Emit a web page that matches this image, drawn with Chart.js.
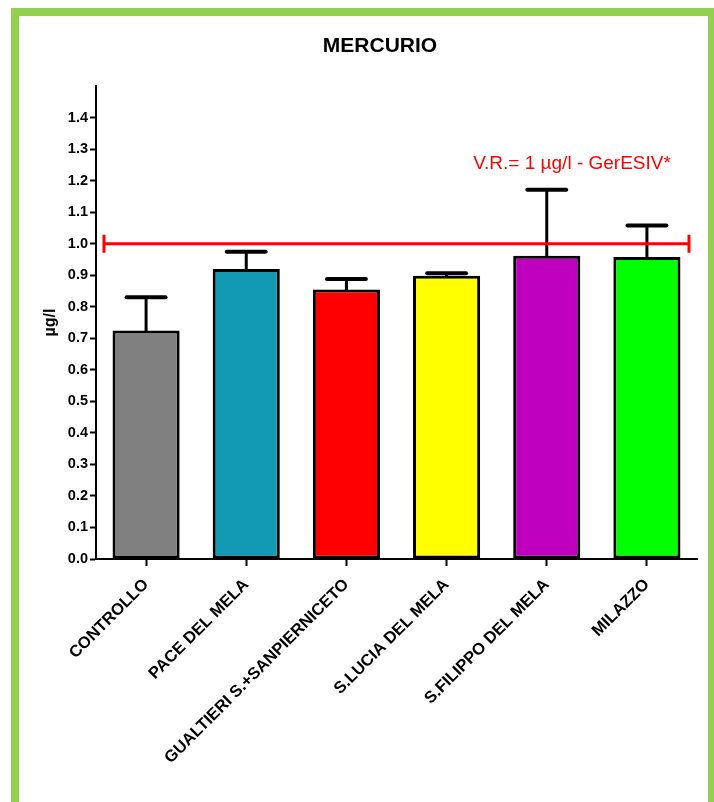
<!DOCTYPE html>
<html>
<head>
<meta charset="utf-8">
<script src="https://cdn.jsdelivr.net/npm/chart.js@4.4.1/dist/chart.umd.min.js"></script>
<style>
  html, body { margin: 0; padding: 0; background: #ffffff; overflow: hidden; }
  #wrap { position: relative; width: 714px; height: 802px; }
  #frame { position: absolute; left: 11px; top: 8px; width: 705px; height: 820px; box-sizing: border-box;
           border: 8px solid #92d050; border-bottom: none; pointer-events: none; }
  canvas { position: absolute; left: 0; top: 0; }
</style>
</head>
<body>
<div id="wrap">
  <canvas id="c" width="714" height="802"></canvas>
  <div id="frame"></div>
</div>
<script>
// ---- data ----
const chartTitle = 'MERCURIO';
const yAxisTitle = 'µg/l';
const categories = ['CONTROLLO', 'PACE DEL MELA', 'GUALTIERI S.+SANPIERNICETO', 'S.LUCIA DEL MELA', 'S.FILIPPO DEL MELA', 'MILAZZO'];
const means = [0.725, 0.92, 0.855, 0.898, 0.962, 0.958];
const upperErrors = [0.105, 0.054, 0.033, 0.008, 0.209, 0.10];
const barColors = ['#808080', '#1299b4', '#ff0000', '#ffff00', '#bf00bf', '#00ff00'];
const yTickValues = [0.0, 0.1, 0.2, 0.3, 0.4, 0.5, 0.6, 0.7, 0.8, 0.9, 1.0, 1.1, 1.2, 1.3, 1.4];
const yMin = 0, yMax = 1.5;
const refValue = 1.0;
const refLabel = 'V.R.= 1 µg/l - GerESIV*';

const FONT = '"Liberation Sans", Arial, sans-serif';

const titlePlugin = {
  id: 'titleText',
  afterDraw(chart) {
    const ctx = chart.ctx;
    ctx.save();
    ctx.font = 'bold 21px ' + FONT;
    ctx.fillStyle = '#000';
    ctx.textAlign = 'center';
    ctx.textBaseline = 'middle';
    ctx.fillText(chartTitle, 380, 46);
    ctx.restore();
  }
};

const errorBarPlugin = {
  id: 'errorBars',
  afterDatasetsDraw(chart) {
    const ctx = chart.ctx;
    const yScale = chart.scales.y;
    const meta = chart.getDatasetMeta(0);
    ctx.save();
    ctx.strokeStyle = '#000';
    ctx.lineCap = 'round';
    meta.data.forEach((bar, i) => {
      const top = yScale.getPixelForValue(means[i] + upperErrors[i]);
      const base = yScale.getPixelForValue(means[i]);
      ctx.lineWidth = 3;
      ctx.beginPath();
      ctx.moveTo(bar.x, base);
      ctx.lineTo(bar.x, top);
      ctx.stroke();
      const half = bar.width * 0.29;
      ctx.lineWidth = 4;
      ctx.beginPath();
      ctx.moveTo(bar.x - half, top);
      ctx.lineTo(bar.x + half, top);
      ctx.stroke();
    });
    ctx.restore();
  }
};

const refLinePlugin = {
  id: 'refLine',
  afterDatasetsDraw(chart) {
    const ctx = chart.ctx;
    const area = chart.chartArea;
    const y = chart.scales.y.getPixelForValue(refValue);
    const x1 = area.left + 8, x2 = area.right - 8;
    ctx.save();
    ctx.strokeStyle = '#ff0000';
    ctx.lineWidth = 3;
    ctx.beginPath();
    ctx.moveTo(x1, y);
    ctx.lineTo(x2, y);
    ctx.stroke();
    ctx.beginPath();
    ctx.moveTo(x1, y - 9); ctx.lineTo(x1, y + 9);
    ctx.moveTo(x2, y - 9); ctx.lineTo(x2, y + 9);
    ctx.stroke();
    ctx.font = '19px ' + FONT;
    ctx.fillStyle = '#ff0000';
    ctx.textAlign = 'center';
    ctx.textBaseline = 'middle';
    ctx.fillText(refLabel, 572, 164);
    ctx.restore();
  }
};

new Chart(document.getElementById('c'), {
  type: 'bar',
  data: {
    labels: categories,
    datasets: [{
      data: means,
      backgroundColor: barColors,
      borderColor: '#000',
      borderWidth: 3,
      borderSkipped: false,
      categoryPercentage: 1.0,
      barPercentage: 0.67
    }]
  },
  options: {
    responsive: false,
    animation: false,
    devicePixelRatio: 1,
    layout: { padding: { left: 30, right: 17, top: 86, bottom: 0 } },
    plugins: { legend: { display: false }, title: { display: false }, tooltip: { enabled: false } },
    scales: {
      x: {
        grid: { display: true, drawOnChartArea: false, offset: false, tickLength: 7, tickColor: '#000', tickWidth: 2 },
        border: { display: true, color: '#000', width: 2 },
        ticks: {
          color: '#000', font: { family: FONT, size: 16.5, weight: 'bold' },
          minRotation: 45, maxRotation: 45, padding: 9, autoSkip: false
        },
        afterFit(scale) { scale.height = 243; }
      },
      y: {
        min: yMin, max: yMax,
        afterBuildTicks(scale) {
          scale.ticks = yTickValues.map(v => ({ value: v }));
        },
        grid: { display: true, drawOnChartArea: false, tickLength: 6, tickColor: '#000', tickWidth: 2 },
        border: { display: true, color: '#000', width: 2 },
        ticks: {
          color: '#000', font: { family: FONT, size: 14.5, weight: 'bold' }, padding: 2,
          callback: (v) => Number(v).toFixed(1)
        },
        title: { display: true, text: yAxisTitle, color: '#000', font: { family: FONT, size: 16, weight: 'bold' }, padding: { top: 11, bottom: 0 } },
        afterFit(scale) { scale.width = 66; }
      }
    }
  },
  plugins: [errorBarPlugin, refLinePlugin, titlePlugin]
});
</script>
</body>
</html>
